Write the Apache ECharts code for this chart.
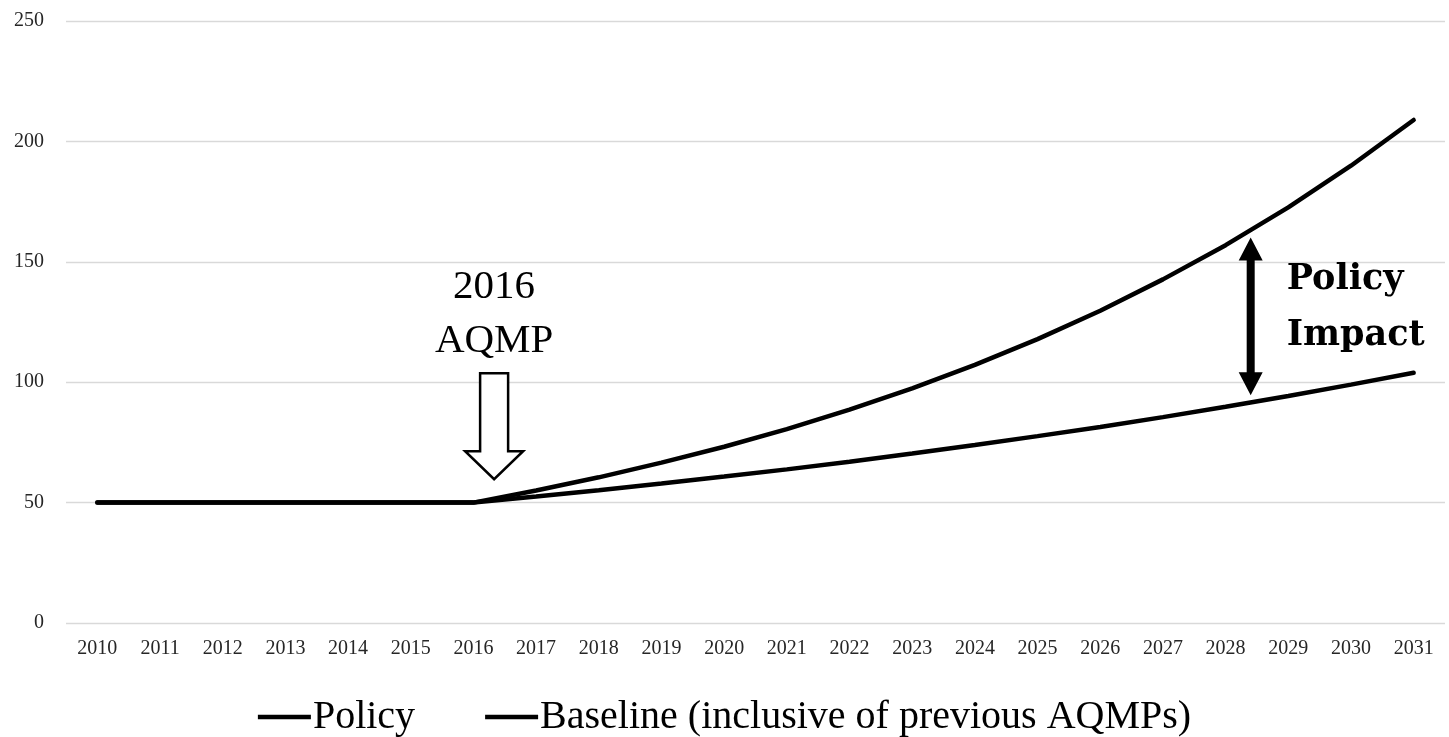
<!DOCTYPE html>
<html><head><meta charset="utf-8">
<script src="https://cdn.jsdelivr.net/npm/echarts@6/dist/echarts.min.js"></script>
<style>html,body{margin:0;padding:0;background:#fff}#c{width:1449px;height:737px}</style>
</head><body><div id="c"></div>
<script>
const years = ['2010','2011','2012','2013','2014','2015','2016','2017','2018','2019','2020','2021','2022','2023','2024','2025','2026','2027','2028','2029','2030','2031'];
const baselineValues = [50,50,50,50,50,50,50,55,60.5,66.6,73.2,80.5,88.6,97.4,107.2,117.9,129.7,142.7,156.9,172.6,189.9,208.9];
const policyValues = [50,50,50,50,50,50,50,52.5,55.1,57.9,60.8,63.8,67.0,70.4,73.9,77.6,81.4,85.5,89.8,94.3,99.0,103.9];
const yTicks = [0,50,100,150,200,250];

(function(){
const FONT = '"Liberation Serif", "DejaVu Serif", serif';
const BOLDFONT = '"DejaVu Serif", "Liberation Serif", serif';
const chart = echarts.init(document.getElementById('c'));
const option = {
  animation: false,
  grid: {left: 66, right: 4, top: 21, bottom: 114},
  legend: {
    data: ['Policy', 'Baseline (inclusive of previous AQMPs)'],
    top: 692, left: 'center',
    icon: 'rect', itemWidth: 53, itemHeight: 4.5, itemGap: 70,
    textStyle: {fontFamily: FONT, fontSize: 40, color: '#000', padding: [0,0,0,-3]}
  },
  xAxis: {
    type: 'category', data: years, boundaryGap: true,
    axisLine: {show: false}, axisTick: {show: false},
    axisLabel: {fontFamily: FONT, fontSize: 20, color: '#262626', margin: 16, interval: 0}
  },
  yAxis: {
    type: 'value', min: yTicks[0], max: yTicks[yTicks.length-1], interval: 50,
    axisLine: {show: false}, axisTick: {show: false},
    axisLabel: {fontFamily: FONT, fontSize: 20, color: '#262626', margin: 22},
    splitLine: {lineStyle: {color: '#d9d9d9', width: 1.3}}
  },
  series: [
    {name: 'Policy', type: 'line', data: policyValues, showSymbol: false, symbol: 'none',
     lineStyle: {color: '#000', width: 4.5, cap: 'round'}, itemStyle: {color: '#000'}, smooth: false},
    {name: 'Baseline (inclusive of previous AQMPs)', type: 'line', data: baselineValues, showSymbol: false, symbol: 'none',
     lineStyle: {color: '#000', width: 4.5, cap: 'round'}, itemStyle: {color: '#000'}, smooth: false}
  ]
};
chart.setOption(option);

function px(catPos, val) {
  const a = chart.convertToPixel({xAxisIndex: 0, yAxisIndex: 0}, [0, val]);
  const b = chart.convertToPixel({xAxisIndex: 0, yAxisIndex: 0}, [1, val]);
  return [a[0] + (b[0] - a[0]) * catPos, a[1]];
}

const tip = px(6.33, 59.7), topPt = px(6.33, 103.7);
const cx = tip[0];
const shaftHalf = 14, headHalf = 29, headLen = 28;
const hollow = [
  [cx - shaftHalf, topPt[1]], [cx + shaftHalf, topPt[1]], [cx + shaftHalf, tip[1] - headLen],
  [cx + headHalf, tip[1] - headLen], [cx, tip[1]], [cx - headHalf, tip[1] - headLen],
  [cx - shaftHalf, tip[1] - headLen]
];
const lbl1 = px(6.33, 139.5), lbl2 = px(6.33, 117);

const dTop = px(18.4, 160.1), dBot = px(18.4, 94.6);
const dx = dTop[0], dHalf = 12, dHead = 23, dShaft = 4;
const dbl = [
  [dx, dTop[1]], [dx + dHalf, dTop[1] + dHead], [dx + dShaft, dTop[1] + dHead],
  [dx + dShaft, dBot[1] - dHead], [dx + dHalf, dBot[1] - dHead], [dx, dBot[1]],
  [dx - dHalf, dBot[1] - dHead], [dx - dShaft, dBot[1] - dHead], [dx - dShaft, dTop[1] + dHead],
  [dx - dHalf, dTop[1] + dHead]
];
const pi1 = px(18.4, 142.3), pi2 = px(18.4, 119.3);

chart.setOption({
  graphic: [
    {type: 'polygon', shape: {points: hollow}, style: {fill: '#fff', stroke: '#000', lineWidth: 2.5}, z: 100},
    {type: 'text', x: cx, y: lbl1[1], style: {text: '2016', fontFamily: FONT, fontSize: 41, fill: '#000', textAlign: 'center', textVerticalAlign: 'middle'}, z: 100},
    {type: 'text', x: cx, y: lbl2[1], style: {text: 'AQMP', fontFamily: FONT, fontSize: 41, fill: '#000', textAlign: 'center', textVerticalAlign: 'middle'}, z: 100},
    {type: 'polygon', shape: {points: dbl}, style: {fill: '#000'}, z: 100},
    {type: 'text', x: dx + 36, y: pi1[1], style: {text: 'Policy', fontFamily: BOLDFONT, fontSize: 35, fontWeight: 'bold', fill: '#000', textAlign: 'left', textVerticalAlign: 'middle'}, z: 100},
    {type: 'text', x: dx + 36, y: pi2[1], style: {text: 'Impact', fontFamily: BOLDFONT, fontSize: 35, fontWeight: 'bold', fill: '#000', textAlign: 'left', textVerticalAlign: 'middle'}, z: 100}
  ]
});
})();
</script></body></html>
